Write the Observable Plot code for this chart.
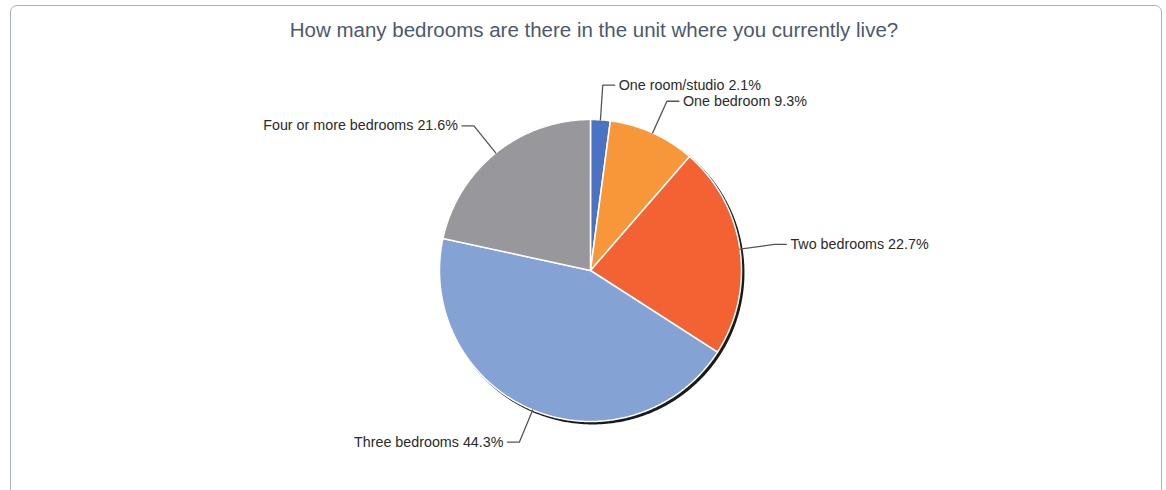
<!DOCTYPE html>
<html>
<head>
<meta charset="utf-8">
<script src="https://cdn.jsdelivr.net/npm/d3@7"></script>
<script src="https://cdn.jsdelivr.net/npm/@observablehq/plot@0.6"></script>
<style>
  html, body { margin: 0; padding: 0; background: #fff; overflow: hidden; }
  body { width: 1166px; height: 490px; position: relative; font-family: "Liberation Sans", Arial, sans-serif; }
  #frame { position: absolute; left: 10px; top: 5px; width: 1152px; height: 520px; border: 1.5px solid #a6b2c4; border-radius: 7px; box-sizing: border-box; }
  #title { position: absolute; left: 0; top: 18px; width: 1188px; text-align: center; font-size: 20.5px; color: #4b596d; }
  #chart { position: absolute; left: 0; top: 0; }
</style>
</head>
<body>
<div id="frame"></div>
<div id="title">How many bedrooms are there in the unit where you currently live?</div>
<div id="chart"></div>
<script>
const categories = ["One room/studio", "One bedroom", "Two bedrooms", "Three bedrooms", "Four or more bedrooms"];
const shares = [2.1, 9.3, 22.7, 44.3, 21.6];
const colors = ["#4a73c4", "#f7973a", "#f26233", "#84a3d4", "#98989c"];

// layout (pixels)
const W = 1166, H = 490, CX = 590, CY = 270, RPX = 151;

const data = categories.map((c, i) => ({category: c, share: shares[i], color: colors[i]}));
const arcs = d3.pie().sort(null).value(d => d.share).startAngle(0).endAngle(2 * Math.PI)(data);

const pt = (a, r) => ({x: r * Math.sin(a), y: r * Math.cos(a)});

function slicePoints(a0, a1, r = 1) {
  const n = Math.max(2, Math.ceil((a1 - a0) / (Math.PI / 360)));
  const pts = [{x: 0, y: 0}];
  for (let k = 0; k <= n; k++) pts.push(pt(a0 + (a1 - a0) * k / n, r));
  pts.push({x: 0, y: 0});
  return pts;
}

const circle = d3.range(0, 721).map(k => pt(k * Math.PI / 360, 1));

const tick = 12 / RPX;
const labels = arcs.map(a => {
  const mid = (a.startAngle + a.endAngle) / 2;
  const right = Math.sin(mid) >= 0;
  const p0 = pt(mid, 1);
  const p1 = pt(mid, 1.23);
  const p2 = {x: p1.x + (right ? tick : -tick), y: p1.y};
  return {
    key: a.data.category,
    right,
    line: [p0, p1, p2],
    x: p2.x, y: p2.y,
    text: `${a.data.category} ${a.data.share}%`
  };
});

const marks = [];
// shadow
marks.push(Plot.line(circle, {x: "x", y: "y", fill: "#1b1b1b", stroke: "#1b1b1b", strokeWidth: 1.5, dx: 2.2, dy: 2.2}));
// slices
arcs.forEach(a => {
  marks.push(Plot.line(slicePoints(a.startAngle, a.endAngle), {x: "x", y: "y", fill: a.data.color, stroke: "white", strokeWidth: 1.5, strokeLinejoin: "round"}));
});
// leaders
labels.forEach(l => {
  marks.push(Plot.line(l.line, {x: "x", y: "y", stroke: "#555", strokeWidth: 1.3}));
});
marks.push(Plot.text(labels.filter(l => l.right), {x: "x", y: "y", text: "text", textAnchor: "start", dx: 4, fontSize: 14.3, fill: "#2a2a2a"}));
marks.push(Plot.text(labels.filter(l => !l.right), {x: "x", y: "y", text: "text", textAnchor: "end", dx: -4, fontSize: 14.3, fill: "#2a2a2a"}));

const chart = Plot.plot({
  width: W, height: H,
  marginTop: 0, marginBottom: 0, marginLeft: 0, marginRight: 0,
  x: {domain: [-CX / RPX, (W - CX) / RPX], axis: null},
  y: {domain: [(CY - H) / RPX, CY / RPX], axis: null},
  style: {background: "transparent", fontFamily: "'Liberation Sans', Arial, sans-serif"},
  marks
});
document.getElementById("chart").appendChild(chart);
</script>
</body>
</html>
